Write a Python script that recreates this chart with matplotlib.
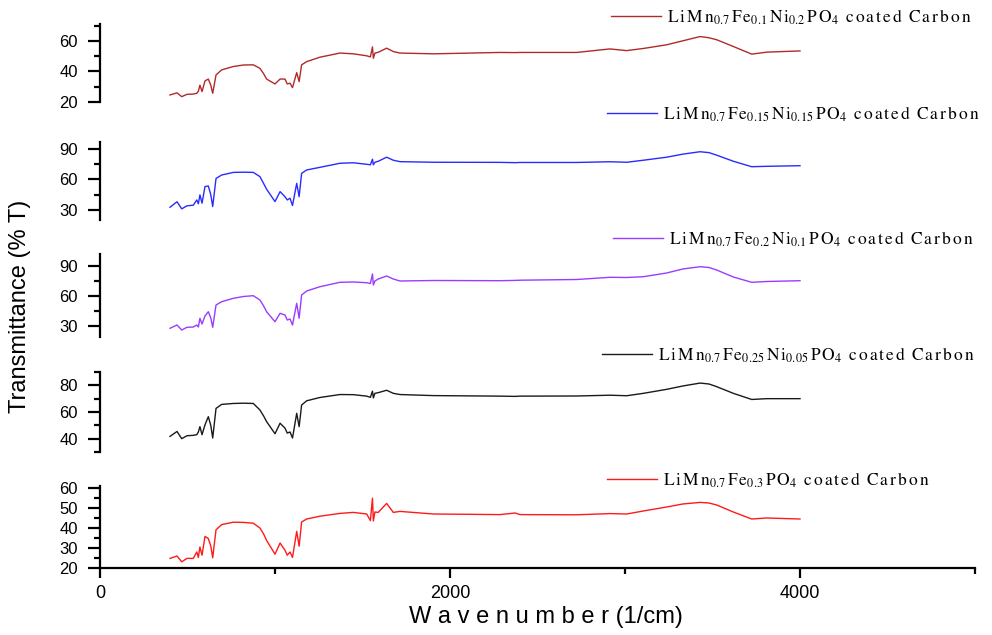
import matplotlib
matplotlib.use("Agg")
import matplotlib.pyplot as plt
from matplotlib.ticker import FixedLocator, NullFormatter

plt.rcParams['font.family'] = ['Liberation Sans', 'DejaVu Sans']
plt.rcParams['mathtext.fontset'] = 'stix'

# ---------------- data ----------------
wavenumber = [400, 440, 467, 497, 533, 553, 562, 571, 583, 600, 619, 633, 644, 663, 695,
              762, 820, 876, 914, 935, 952, 1000, 1029, 1057, 1070, 1086, 1100, 1124, 1138, 1152,
              1181, 1257, 1371, 1448, 1524, 1545, 1557, 1562, 1571, 1590, 1638, 1676,
              1714, 1905, 2286, 2372, 2400, 2724, 2914, 3010, 3105, 3238, 3330, 3429, 3480, 3524,
              3619, 3724, 3810, 4000]

t_fe01_ni02 = [24.6, 26, 23.5, 25, 25.2, 25.7, 27, 31, 26.8, 33.8, 35, 31, 25.7, 37.7, 41,
               43.2, 44.2, 44.3, 42, 38.5, 35, 31.8, 35, 35, 31.8, 32.3, 29.4, 39.2, 33.3, 44.3,
               46.4, 49.3, 52, 51.5, 50.2, 49.5, 56, 48.6, 52, 52.5, 55.2, 53,
               52, 51.5, 52.4, 52.3, 52.4, 52.4, 54.7, 53.6, 55, 57.4, 60, 62.8, 62, 60.7,
               56.3, 51.3, 52.6, 53.4]

t_fe015_ni015 = [32.6, 38, 31, 34, 34.6, 39.8, 36, 44.8, 36.6, 53, 53.6, 45, 33.3, 61, 64.4,
                 67, 67.2, 67, 62.8, 56, 50.4, 38.2, 48, 43, 39.8, 41.5, 34.3, 56.2, 43, 66,
                 69.4, 72, 76, 76.5, 75, 74.5, 80, 74.5, 77, 78, 82, 79,
                 77.6, 77, 76.9, 76.6, 76.8, 76.8, 77.5, 77, 79, 82, 85, 87.4, 86.5, 84,
                 78, 72.6, 73, 73.6]

t_fe02_ni01 = [27.7, 31, 26, 28.7, 29, 31, 29, 37.7, 32, 40, 44.3, 38, 28.7, 51, 54.3,
               57.7, 59.5, 60.3, 56, 50, 44.3, 34.3, 42.7, 41, 36, 37, 31, 52.7, 37.7, 61,
               65, 69.3, 73.7, 74, 73.3, 72.5, 82, 71, 75, 77, 80, 77,
               75, 75.5, 75.3, 75.6, 75.8, 76.5, 78.7, 78.5, 79.3, 83, 87, 89.3, 88.5, 86,
               79, 73.7, 74.5, 75.3]

t_fe025_ni005 = [41.7, 45.4, 40, 42.2, 42.5, 43, 45, 49, 43, 50.4, 56.5, 50, 40.5, 62.7, 65.7,
                 66.4, 66.6, 66.4, 61.5, 57, 52.8, 43.7, 51.6, 47.9, 44.2, 45, 40.5, 59, 49, 65.2,
                 68.4, 70.9, 73.1, 73, 71.9, 71, 75.6, 70.6, 74, 74.5, 76.3, 74,
                 73.1, 72.3, 71.9, 71.7, 71.9, 72, 72.6, 72.2, 74, 77, 79.5, 81.7, 81, 79,
                 74, 69.4, 70, 70]

t_fe03 = [24.8, 26, 23.1, 24.8, 24.8, 28, 25.3, 30.5, 26.4, 35.8, 34.7, 31, 25.1, 39.1, 41.7,
          42.9, 42.8, 42.4, 40, 37, 33.8, 26.9, 32.5, 28.9, 26.4, 28, 25.3, 38.3, 30.9, 43,
          44.5, 45.9, 47.3, 47.8, 47, 43.7, 54.9, 43.5, 48, 47.8, 52.3, 47.8,
          48.3, 47, 46.7, 47.5, 46.7, 46.6, 47.2, 47, 48.5, 50.5, 52, 52.8, 52.5, 51.5,
          48, 44.5, 45, 44.5]

series = [t_fe01_ni02, t_fe015_ni015, t_fe02_ni01, t_fe025_ni005, t_fe03]
names = ["LiMn_{0.7}Fe_{0.1}Ni_{0.2}PO_{4} coated Carbon",
         "LiMn_{0.7}Fe_{0.15}Ni_{0.15}PO_{4} coated Carbon",
         "LiMn_{0.7}Fe_{0.2}Ni_{0.1}PO_{4} coated Carbon",
         "LiMn_{0.7}Fe_{0.25}Ni_{0.05}PO_{4} coated Carbon",
         "LiMn_{0.7}Fe_{0.3}PO_{4} coated Carbon"]
colors = ['#b02a2a', '#2a2aff', '#9a3cff', '#1a1a1a', '#ff1a1a']
ylims = [(20, 71), (20, 97), (19, 102), (30, 90), (20, 61)]
major_ticks = [[20, 40, 60], [30, 60, 90], [30, 60, 90], [40, 60, 80], [20, 30, 40, 50, 60]]
minor_ticks = [[30, 50, 70], [45, 75], [45, 75], [30, 50, 70, 90], [25, 35, 45, 55]]
x_major = [0, 2000, 4000]
x_minor = [1000, 3000, 5000]

# ---------------- layout (pixels) ----------------
W, H = 992, 635
panel_px = [(24, 102), (142, 220), (254, 337), (372, 452), (486, 568)]
legend_px = [(611, 17), (607, 114), (613, 239), (602, 355), (607, 480)]


def spaced(s):
    """Turn 'LiMn_{0.7}... coated Carbon' into letter-spaced mathtext."""
    out = []
    i = 0
    while i < len(s):
        c = s[i]
        if c == '_':
            j = s.index('}', i)
            out.append('_{' + s[i + 2:j] + '}')
            i = j + 1
            continue
        if c == ' ':
            out.append(r'\;\;')
        else:
            if out and not out[-1].startswith(r'\;'):
                out.append(r'\,')
            out.append(c)
        i += 1
    return r'$\mathrm{' + ''.join(out) + '}$'


fig = plt.figure(figsize=(W / 100, H / 100), dpi=100)

for k, (top, bot) in enumerate(panel_px):
    ax = fig.add_axes([100 / W, 1 - bot / H, 875 / W, (bot - top) / H])
    ax.set_facecolor('none')
    line, = ax.plot(wavenumber, series[k], color=colors[k], lw=1.0)
    ax.set_xlim(0, 5000)
    ax.set_ylim(*ylims[k])
    ax.yaxis.set_major_locator(FixedLocator(major_ticks[k]))
    ax.yaxis.set_minor_locator(FixedLocator(minor_ticks[k]))
    ax.yaxis.set_minor_formatter(NullFormatter())
    for s in ['top', 'right']:
        ax.spines[s].set_visible(False)
    ax.spines['left'].set_linewidth(1.6)
    ax.tick_params(axis='y', which='major', direction='out', length=9, width=1.6,
                   labelsize=12, pad=7)
    ax.tick_params(axis='y', which='minor', direction='out', length=4, width=1.6)
    if k < 4:
        ax.spines['bottom'].set_visible(False)
        ax.set_xticks([])
    else:
        ax.spines['bottom'].set_linewidth(1.6)
        ax.xaxis.set_major_locator(FixedLocator(x_major))
        ax.xaxis.set_minor_locator(FixedLocator(x_minor))
        ax.xaxis.set_minor_formatter(NullFormatter())
        ax.tick_params(axis='x', which='major', direction='out', length=7, width=1.6,
                       labelsize=13, pad=5)
        ax.tick_params(axis='x', which='minor', direction='out', length=4, width=1.6)
    lx, ly = legend_px[k]
    ax.legend([line], [spaced(names[k])], loc='center left',
              bbox_to_anchor=(lx / W, 1 - ly / H), bbox_transform=fig.transFigure,
              frameon=False, borderpad=0, borderaxespad=0, handlelength=2.9,
              handletextpad=0.35, prop={'size': 12.5})

fig.text(20 / W, 1 - 306 / H, 'Transmittance (% T)', rotation=90, fontsize=17,
         ha='center', va='center')
fig.text(546 / W, 1 - 617 / H, 'W a v e n u m b e r (1/cm)', fontsize=17,
         ha='center', va='center')

fig.savefig('out.png', dpi=100)
